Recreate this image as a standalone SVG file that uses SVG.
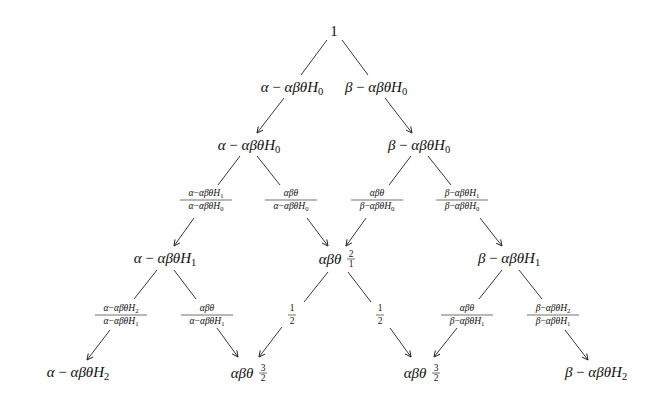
<svg xmlns="http://www.w3.org/2000/svg" width="654" height="405" viewBox="0 0 654 405">
<defs>
<marker id="ah" markerWidth="8" markerHeight="8" refX="7" refY="4" orient="auto" markerUnits="userSpaceOnUse">
<path d="M1,1 L7,4 L1,7" fill="none" stroke="#222" stroke-width="0.9"/>
</marker>
<style>
text{font-family:"Liberation Serif","DejaVu Serif",serif;fill:#111;font-style:italic;text-anchor:middle}
.m{font-size:15px}
.f{font-size:9.5px}
.u{font-style:normal}
.s{font-size:0.7em;font-style:normal}
line.c{stroke:#222;stroke-width:0.9}
line.a{stroke:#222;stroke-width:0.9;marker-end:url(#ah)}
line.b{stroke:#111;stroke-width:0.6}
</style>
</defs>
<rect width="654" height="405" fill="#fff"/>
<g id="connectors">
<line class="c" x1="327" y1="40" x2="301" y2="75"/>
<line class="c" x1="342" y1="40" x2="368" y2="75"/>
<line class="a" x1="284" y1="98" x2="257" y2="133"/>
<line class="a" x1="385" y1="98" x2="412" y2="133"/>
<line class="c" x1="240" y1="156" x2="218" y2="185"/>
<line class="c" x1="257" y1="156" x2="280" y2="185"/>
<line class="c" x1="411" y1="156" x2="389" y2="185"/>
<line class="c" x1="428" y1="156" x2="451" y2="185"/>
<line class="a" x1="194" y1="218" x2="174" y2="246"/>
<line class="a" x1="307" y1="218" x2="328" y2="246"/>
<line class="a" x1="366" y1="218" x2="346" y2="246"/>
<line class="a" x1="480" y1="218" x2="502" y2="246"/>
<line class="c" x1="157" y1="270" x2="134" y2="299"/>
<line class="c" x1="174" y1="270" x2="196" y2="299"/>
<line class="c" x1="328" y1="272" x2="304" y2="302"/>
<line class="c" x1="348" y1="272" x2="371" y2="302"/>
<line class="c" x1="502" y1="270" x2="479" y2="299"/>
<line class="c" x1="519" y1="270" x2="542" y2="299"/>
<line class="a" x1="110" y1="330" x2="87" y2="360"/>
<line class="a" x1="217" y1="328" x2="238" y2="357"/>
<line class="a" x1="282" y1="327" x2="259" y2="357"/>
<line class="a" x1="390" y1="328" x2="411" y2="357"/>
<line class="a" x1="457" y1="328" x2="434" y2="357"/>
<line class="a" x1="565" y1="330" x2="588" y2="360"/>
</g>
<g id="n1"><text class="m u" x="334" y="36">1</text></g>
<g id="n2a"><text class="m" x="292" y="92">α <tspan class="u">−</tspan> αβθH<tspan class="s" dy="3">0</tspan></text></g>
<g id="n2b"><text class="m" x="376" y="92">β <tspan class="u">−</tspan> αβθH<tspan class="s" dy="3">0</tspan></text></g>
<g id="n3a"><text class="m" x="249" y="150">α <tspan class="u">−</tspan> αβθH<tspan class="s" dy="3">0</tspan></text></g>
<g id="n3b"><text class="m" x="419" y="150">β <tspan class="u">−</tspan> αβθH<tspan class="s" dy="3">0</tspan></text></g>
<g id="e1"><text class="f" x="206" y="196">α<tspan class="u">−</tspan>αβθH<tspan class="s" dy="2">1</tspan></text><line class="b" x1="180" y1="200" x2="232" y2="200"/><text class="f" x="206" y="209">α<tspan class="u">−</tspan>αβθH<tspan class="s" dy="2">0</tspan></text></g>
<g id="e2"><text class="f" x="291" y="196">αβθ</text><line class="b" x1="265" y1="200" x2="317" y2="200"/><text class="f" x="291" y="209">α<tspan class="u">−</tspan>αβθH<tspan class="s" dy="2">0</tspan></text></g>
<g id="e3"><text class="f" x="377" y="196">αβθ</text><line class="b" x1="351" y1="200" x2="403" y2="200"/><text class="f" x="377" y="209">β<tspan class="u">−</tspan>αβθH<tspan class="s" dy="2">0</tspan></text></g>
<g id="e4"><text class="f" x="462" y="196">β<tspan class="u">−</tspan>αβθH<tspan class="s" dy="2">1</tspan></text><line class="b" x1="436" y1="200" x2="488" y2="200"/><text class="f" x="462" y="209">β<tspan class="u">−</tspan>αβθH<tspan class="s" dy="2">0</tspan></text></g>
<g id="n5a"><text class="m" x="165" y="263">α <tspan class="u">−</tspan> αβθH<tspan class="s" dy="3">1</tspan></text></g>
<g id="n5b"><text class="m" x="330" y="264">αβθ</text><text class="f u" x="351" y="257">2</text><line class="b" x1="347" y1="259" x2="355" y2="259"/><text class="f u" x="351" y="267">1</text></g>
<g id="n5c"><text class="m" x="509" y="263">β <tspan class="u">−</tspan> αβθH<tspan class="s" dy="3">1</tspan></text></g>
<g id="e5"><text class="f" x="121" y="311">α<tspan class="u">−</tspan>αβθH<tspan class="s" dy="2">2</tspan></text><line class="b" x1="95" y1="315" x2="147" y2="315"/><text class="f" x="121" y="324">α<tspan class="u">−</tspan>αβθH<tspan class="s" dy="2">1</tspan></text></g>
<g id="e6"><text class="f" x="207" y="311">αβθ</text><line class="b" x1="181" y1="315" x2="233" y2="315"/><text class="f" x="207" y="324">α<tspan class="u">−</tspan>αβθH<tspan class="s" dy="2">1</tspan></text></g>
<g id="e7"><text class="f u" x="292" y="311">1</text><line class="b" x1="288" y1="315" x2="296" y2="315"/><text class="f u" x="292" y="324">2</text></g>
<g id="e8"><text class="f u" x="380" y="311">1</text><line class="b" x1="376" y1="315" x2="384" y2="315"/><text class="f u" x="380" y="324">2</text></g>
<g id="e9"><text class="f" x="467" y="311">αβθ</text><line class="b" x1="441" y1="315" x2="493" y2="315"/><text class="f" x="467" y="324">β<tspan class="u">−</tspan>αβθH<tspan class="s" dy="2">1</tspan></text></g>
<g id="e10"><text class="f" x="553" y="311">β<tspan class="u">−</tspan>αβθH<tspan class="s" dy="2">2</tspan></text><line class="b" x1="527" y1="315" x2="579" y2="315"/><text class="f" x="553" y="324">β<tspan class="u">−</tspan>αβθH<tspan class="s" dy="2">1</tspan></text></g>
<g id="n6a"><text class="m" x="78" y="377">α <tspan class="u">−</tspan> αβθH<tspan class="s" dy="3">2</tspan></text></g>
<g id="n6b"><text class="m" x="242" y="378">αβθ</text><text class="f u" x="263" y="371">3</text><line class="b" x1="259" y1="373" x2="267" y2="373"/><text class="f u" x="263" y="381">2</text></g>
<g id="n6c"><text class="m" x="415" y="378">αβθ</text><text class="f u" x="436" y="371">3</text><line class="b" x1="432" y1="373" x2="440" y2="373"/><text class="f u" x="436" y="381">2</text></g>
<g id="n6d"><text class="m" x="596" y="377">β <tspan class="u">−</tspan> αβθH<tspan class="s" dy="3">2</tspan></text></g>
</svg>
